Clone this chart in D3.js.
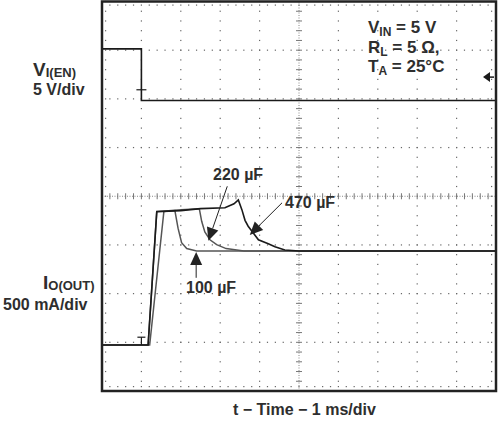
<!DOCTYPE html>
<html>
<head>
<meta charset="utf-8">
<script src="https://cdn.jsdelivr.net/npm/d3@7"></script>
<style>
  body { margin: 0; background: #fff; }
  #main { width: 498px; height: 424px; }
  text { font-family: "Liberation Sans", Arial, sans-serif; font-weight: bold; fill: #2e2e2e; }
</style>
</head>
<body>
<div id="main"></div>
<script>
"use strict";

// scope screen: 10 div x 8 div, time in ms (1 ms/div)
const enableTrace = [[0, 5.3], [1.0, 5.3], [1.0, 0], [10, 0]];            // V, 5 V/div
const cap100Trace = [[0, 0], [1.21, 0], [1.57, 1.37], [1.85, 1.38], [1.93, 1.20],
    [2.02, 1.05], [2.15, 0.99], [2.4, 0.965], [10, 0.965]];               // A, 500 mA/div
const cap220Trace = [[0, 0], [1.17, 0], [1.39, 1.37], [2.0, 1.39], [2.47, 1.40],
    [2.53, 1.27], [2.61, 1.16], [2.74, 1.08], [2.91, 1.03], [3.15, 0.99],
    [3.6, 0.965], [10, 0.965]];
const cap470Trace = [[0, 0], [1.17, 0], [1.39, 1.37], [2.0, 1.38], [2.5, 1.40],
    [3.12, 1.41], [3.35, 1.45], [3.46, 1.49], [3.55, 1.39], [3.63, 1.28],
    [3.71, 1.22], [3.84, 1.15], [3.97, 1.08], [4.22, 1.04], [4.39, 1.01],
    [4.64, 0.975], [5.0, 0.965], [10, 0.965]];
const capLabels = ["100 µF", "220 µF", "470 µF"];
const conditionLabels = [["V", "IN", " = 5 V"], ["R", "L", " = 5 Ω,"], ["T", "A", " = 25°C"]];

// channel offsets (divisions from bottom) and scale per division
const enOffset = 5.967, enPerDiv = 5;
const ioOffset = 0.945, ioPerDiv = 0.5;
const triggerTime = 1.0, triggerLevel = 2.4;

const width = 498, height = 424;
const svg = d3.select('#main').append("svg")
    .attr("width", width).attr("height", height);

const x = d3.scaleLinear().domain([0, 10]).range([102, 496]);
const y = d3.scaleLinear().domain([0, 8]).range([391, 1.5]);
const yEn = v => y(enOffset + v / enPerDiv);
const yIo = a => y(ioOffset + a / ioPerDiv);

// graticule
const grid = svg.append("g");
const subX = d3.range(0, 50.5).map(d => d / 5);
const subY = d3.range(0, 40.5).map(d => d / 5);
[1, 2, 3, 4, 6, 7, 8, 9].forEach(i => {
    grid.selectAll(null).data(subY).join("rect")
        .attr("x", x(i) - 0.6).attr("y", d => y(d) - 0.6)
        .attr("width", 1.2).attr("height", 1.2).attr("fill", "#666");
});
[1, 2, 3, 5, 6, 7].forEach(j => {
    grid.selectAll(null).data(subX).join("rect")
        .attr("x", d => x(d) - 0.6).attr("y", y(j) - 0.6)
        .attr("width", 1.2).attr("height", 1.2).attr("fill", "#666");
});
// border dots
grid.selectAll(null).data(subX).join("rect")
    .attr("x", d => x(d) - 0.6).attr("y", y(8) + 3)
    .attr("width", 1.2).attr("height", 1.2).attr("fill", "#666");
grid.selectAll(null).data(subX).join("rect")
    .attr("x", d => x(d) - 0.6).attr("y", y(0) - 5)
    .attr("width", 1.2).attr("height", 1.2).attr("fill", "#666");
grid.selectAll(null).data(subY).join("rect")
    .attr("x", x(0) + 3).attr("y", d => y(d) - 0.6)
    .attr("width", 1.2).attr("height", 1.2).attr("fill", "#666");
grid.selectAll(null).data(subY).join("rect")
    .attr("x", x(10) - 5).attr("y", d => y(d) - 0.6)
    .attr("width", 1.2).attr("height", 1.2).attr("fill", "#666");

// center axes with ticks
grid.append("line").attr("x1", x(0)).attr("x2", x(10)).attr("y1", y(4)).attr("y2", y(4))
    .attr("stroke", "#888").attr("stroke-dasharray", "1,1.5");
grid.append("line").attr("x1", x(5)).attr("x2", x(5)).attr("y1", y(0)).attr("y2", y(8))
    .attr("stroke", "#888").attr("stroke-dasharray", "1,1.5");
grid.selectAll(null).data(subX).join("line")
    .attr("x1", d => x(d)).attr("x2", d => x(d))
    .attr("y1", y(4) - 3).attr("y2", y(4) + 3)
    .attr("stroke", "#777");
grid.selectAll(null).data(subY).join("line")
    .attr("x1", x(5) - 3).attr("x2", x(5) + 3)
    .attr("y1", d => y(d)).attr("y2", d => y(d))
    .attr("stroke", "#777");

// traces
const ioLine = d3.line().x(d => x(d[0])).y(d => yIo(d[1]));
const enLine = d3.line().x(d => x(d[0])).y(d => yEn(d[1]));

svg.append("path").datum(enableTrace).attr("d", enLine)
    .attr("fill", "none").attr("stroke", "#1a1a1a").attr("stroke-width", 1.6);
svg.append("path").datum(cap100Trace).attr("d", ioLine)
    .attr("fill", "none").attr("stroke", "#555").attr("stroke-width", 1.5);
svg.append("path").datum(cap220Trace).attr("d", ioLine)
    .attr("fill", "none").attr("stroke", "#555").attr("stroke-width", 1.5);
svg.append("path").datum(cap470Trace).attr("d", ioLine)
    .attr("fill", "none").attr("stroke", "#1a1a1a").attr("stroke-width", 1.6);

// trigger markers
const marks = svg.append("g").attr("stroke", "#1a1a1a").attr("stroke-width", 1.2);
marks.append("line").attr("x1", x(triggerTime) - 5).attr("x2", x(triggerTime) + 5)
    .attr("y1", yEn(1.1)).attr("y2", yEn(1.1));
marks.append("line").attr("x1", x(triggerTime) - 4).attr("x2", x(triggerTime) + 4)
    .attr("y1", yIo(0.08)).attr("y2", yIo(0.08));
marks.append("line").attr("x1", x(triggerTime)).attr("x2", x(triggerTime))
    .attr("y1", yIo(0.08)).attr("y2", yIo(0));
svg.append("path")
    .attr("d", `M${x(10) - 13},${yEn(triggerLevel)} l7,-5 v10 z`)
    .attr("fill", "#1a1a1a");
svg.append("line").attr("x1", x(10) - 8).attr("x2", x(10) - 2)
    .attr("y1", yEn(triggerLevel)).attr("y2", yEn(triggerLevel))
    .attr("stroke", "#1a1a1a").attr("stroke-width", 1.5);

// frame
svg.append("rect").attr("x", x(0)).attr("y", y(8))
    .attr("width", x(10) - x(0)).attr("height", y(0) - y(8))
    .attr("fill", "none").attr("stroke", "#222").attr("stroke-width", 2.5);

// annotation arrows: [from time, from amps, to time, to amps]
const arrows = [[2.39, 0.69, 2.39, 0.955], [3.18, 1.63, 2.70, 1.07], [4.57, 1.46, 3.75, 1.13]];
function arrow(a) {
    const x1 = x(a[0]), y1 = yIo(a[1]), x2 = x(a[2]), y2 = yIo(a[3]);
    const ang = Math.atan2(y2 - y1, x2 - x1);
    const len = 13, half = 6;
    const bx = x2 - len * Math.cos(ang), by = y2 - len * Math.sin(ang);
    svg.append("line").attr("x1", x1).attr("y1", y1).attr("x2", bx).attr("y2", by)
        .attr("stroke", "#222").attr("stroke-width", 1);
    svg.append("path")
        .attr("d", `M${x2},${y2} L${bx - half * Math.sin(ang)},${by + half * Math.cos(ang)} L${bx + half * Math.sin(ang)},${by - half * Math.cos(ang)} Z`)
        .attr("fill", "#222");
}
arrows.forEach(arrow);

svg.append("text").attr("x", 186).attr("y", 293).attr("font-size", 16).text(capLabels[0]);
svg.append("text").attr("x", 213).attr("y", 180).attr("font-size", 16).text(capLabels[1]);
svg.append("text").attr("x", 285).attr("y", 208).attr("font-size", 16).text(capLabels[2]);

// test conditions
conditionLabels.forEach((c, i) => {
    const t = svg.append("text").attr("x", 368).attr("y", 33 + i * 19.5).attr("font-size", 17);
    t.append("tspan").text(c[0]);
    t.append("tspan").attr("font-size", 12).attr("dy", 3).text(c[1]);
    t.append("tspan").attr("dy", -3).text(c[2]);
});

// channel labels
const en = svg.append("text").attr("x", 33).attr("y", 76).attr("font-size", 19);
en.append("tspan").text("V");
en.append("tspan").attr("font-size", 13).attr("dy", 1).text("I(EN)");
svg.append("text").attr("x", 33).attr("y", 95).attr("font-size", 16).text("5 V/div");

const io = svg.append("text").attr("x", 43).attr("y", 289).attr("font-size", 19);
io.append("tspan").text("I");
io.append("tspan").attr("font-size", 13).attr("dy", 1).text("O(OUT)");
svg.append("text").attr("x", 3).attr("y", 310).attr("font-size", 16).text("500 mA/div");

svg.append("text").attr("x", 233).attr("y", 415).attr("font-size", 16)
    .text("t − Time − 1 ms/div");
</script>
</body>
</html>
